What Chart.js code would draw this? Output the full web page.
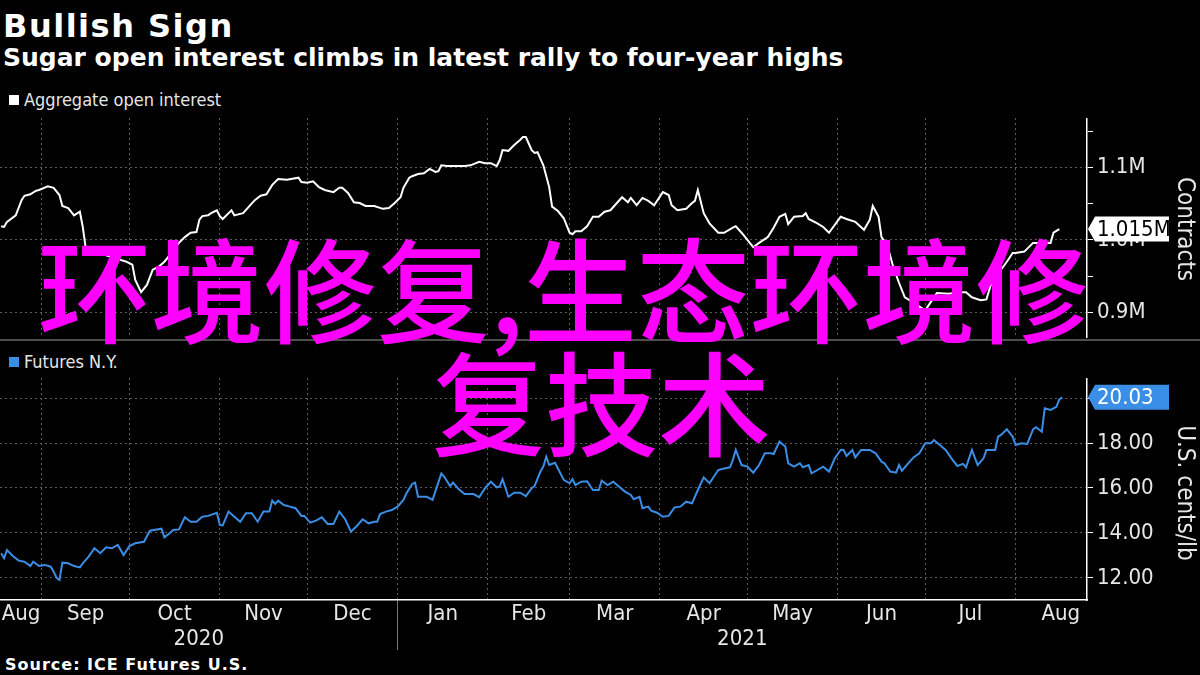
<!DOCTYPE html>
<html>
<head>
<meta charset="utf-8">
<script src="https://cdn.jsdelivr.net/npm/chart.js@4.4.1/dist/chart.umd.min.js"></script>
<style>
  body { margin: 0; background: #000; width: 1200px; height: 675px; overflow: hidden; position: relative; }
  .abs { position: absolute; white-space: nowrap; }
  .narrow { font-family: 'Liberation Sans Narrow', 'DejaVu Sans Condensed', 'Roboto Condensed', 'Arial Narrow', sans-serif; }
  #title { left: 3px; top: 10px; font: bold 32px 'DejaVu Sans', sans-serif; line-height: 32px; color: #fff; letter-spacing: 1.5px; }
  #subtitle { left: 3px; top: 45px; font: bold 25px 'DejaVu Sans', sans-serif; line-height: 25px; color: #fff; }
  .legend { left: 9px; font-size: 18px; line-height: 20px; color: #e6e6e6; }
  .legend i { display: inline-block; width: 10px; height: 10px; margin-right: 5px; vertical-align: 1px; }
  .ytitle { font-size: 24px; color: #e6e6e6; transform: translate(-50%, -50%) rotate(90deg); }
  #sep { left: 0; top: 339px; width: 1200px; height: 2px; background: #4d4d4d; }
  #source { left: 5px; top: 655px; font: bold 16px 'DejaVu Sans', sans-serif; letter-spacing: 1px; color: #fff; }
  #wm { left: 0; top: 229px; font: 500 113px 'Noto Sans CJK SC', sans-serif; line-height: 113px; color: #ff00ff; z-index: 10; }
  #wm span { display: block; }
  canvas { position: absolute; left: 0; }
</style>
</head>
<body>
<div id="title" class="abs">Bullish Sign</div>
<div id="subtitle" class="abs">Sugar open interest climbs in latest rally to four-year highs</div>
<div class="abs legend narrow" style="top:90px"><i style="background:#fff"></i>Aggregate open interest</div>
<div id="sep" class="abs"></div>
<div class="abs legend narrow" style="top:352px"><i style="background:#3a8ee6"></i>Futures N.Y.</div>
<canvas id="chartOI" width="1200" height="220" style="top:118px"></canvas>
<canvas id="chartFut" width="1200" height="272" style="top:378px"></canvas>
<div class="abs ytitle narrow" style="left:1186px;top:229px">Contracts</div>
<div class="abs ytitle narrow" style="left:1186px;top:493px">U.S. cents/lb</div>
<div id="source" class="abs">Source: ICE Futures U.S.</div>
<div id="wm" class="abs"><span style="padding-left:38px">环境修复,生态环境修</span><span style="padding-left:432px">复技术</span></div>

<script>
// ---- data ----
// aggregate open interest, thousands of contracts
const oiDates = [
  '2020-08-18','2020-08-19','2020-08-20','2020-08-23','2020-08-25','2020-08-26','2020-08-28','2020-08-30','2020-08-31',
  '2020-09-03','2020-09-05','2020-09-07','2020-09-08','2020-09-10','2020-09-12','2020-09-14','2020-09-15','2020-09-16',
  '2020-09-18','2020-09-23','2020-09-26','2020-09-30','2020-10-02','2020-10-03','2020-10-05','2020-10-07','2020-10-09',
  '2020-10-11','2020-10-13','2020-10-14','2020-10-16','2020-10-18','2020-10-20','2020-10-22','2020-10-24','2020-10-25',
  '2020-10-26','2020-10-28','2020-10-29','2020-10-31','2020-11-01','2020-11-02','2020-11-05','2020-11-06','2020-11-08',
  '2020-11-09','2020-11-11','2020-11-13','2020-11-15','2020-11-17','2020-11-19','2020-11-21','2020-11-24','2020-11-28',
  '2020-11-29','2020-12-01','2020-12-03','2020-12-05','2020-12-07','2020-12-10','2020-12-12','2020-12-13','2020-12-15',
  '2020-12-17','2020-12-19','2020-12-21','2020-12-24','2020-12-27','2020-12-29','2020-12-31','2021-01-02','2021-01-03',
  '2021-01-05','2021-01-06','2021-01-08','2021-01-10','2021-01-12','2021-01-14','2021-01-15','2021-01-16','2021-01-18',
  '2021-01-21','2021-01-24','2021-01-26','2021-01-29','2021-01-31','2021-02-02','2021-02-04','2021-02-05','2021-02-06',
  '2021-02-08','2021-02-10','2021-02-12','2021-02-13','2021-02-14','2021-02-16','2021-02-17','2021-02-18','2021-02-20',
  '2021-02-22','2021-02-23','2021-02-25','2021-02-27','2021-03-01','2021-03-02','2021-03-03','2021-03-05','2021-03-07',
  '2021-03-09','2021-03-11','2021-03-13','2021-03-15','2021-03-17','2021-03-19','2021-03-21','2021-03-22','2021-03-24',
  '2021-03-26','2021-03-28','2021-03-30','2021-04-02','2021-04-04','2021-04-05','2021-04-07','2021-04-10','2021-04-12',
  '2021-04-13','2021-04-14','2021-04-16','2021-04-18','2021-04-21','2021-04-23','2021-04-26','2021-04-27','2021-04-29',
  '2021-05-01','2021-05-03','2021-05-05','2021-05-08','2021-05-10','2021-05-12','2021-05-14','2021-05-15','2021-05-17',
  '2021-05-20','2021-05-21','2021-05-22','2021-05-25','2021-05-27','2021-05-29','2021-05-31','2021-06-02','2021-06-04',
  '2021-06-07','2021-06-10','2021-06-12','2021-06-13','2021-06-15','2021-06-16','2021-06-18','2021-06-20','2021-06-22',
  '2021-06-24','2021-06-26','2021-06-29','2021-07-01','2021-07-03','2021-07-05','2021-07-09','2021-07-13','2021-07-15',
  '2021-07-17','2021-07-20','2021-07-22','2021-07-24','2021-07-27','2021-07-29','2021-07-31','2021-08-01','2021-08-04',
  '2021-08-07','2021-08-10','2021-08-13','2021-08-14','2021-08-16'
];
const oiValues = [
  1019,1018,1025,1034,1055,1061,1063,1068,1069,
  1074,1072,1062,1047,1044,1034,1039,1018,989,
  983,979,975,970,966,945,928,938,959,
  963,970,975,986,996,1004,1010,1011,1028,
  1033,1034,1037,1041,1033,1029,1041,1034,1036,
  1037,1046,1055,1061,1063,1076,1084,1083,1086,
  1080,1079,1081,1073,1069,1066,1072,1072,1065,
  1052,1051,1047,1047,1043,1044,1051,1059,1072,
  1086,1088,1091,1092,1098,1094,1095,1103,1102,
  1102,1102,1103,1108,1106,1106,1102,1110,1124,
  1123,1131,1138,1142,1142,1124,1120,1121,1103,
  1073,1046,1040,1030,1010,1008,1012,1012,1019,
  1032,1032,1039,1041,1050,1059,1052,1058,1048,
  1058,1054,1048,1066,1062,1048,1041,1043,1051,
  1054,1069,1037,1023,1010,1010,1017,1019,1010,
  1000,990,996,1004,1017,1032,1036,1022,1032,
  1033,1037,1029,1023,1018,1010,1021,1032,1029,
  1025,1014,1028,1047,1032,1004,993,963,941,
  921,916,908,903,915,927,926,928,928,
  921,917,918,945,959,970,982,982,984,
  996,996,996,1010,1015
];

// raw sugar futures, U.S. cents/lb
const futDates = [
  '2020-08-18','2020-08-19','2020-08-20','2020-08-22','2020-08-24','2020-08-26','2020-08-28','2020-08-29','2020-08-31',
  '2020-09-02','2020-09-04','2020-09-05','2020-09-06','2020-09-07','2020-09-08','2020-09-10','2020-09-12','2020-09-14',
  '2020-09-15','2020-09-17','2020-09-19','2020-09-21','2020-09-23','2020-09-25','2020-09-27','2020-09-29','2020-10-01',
  '2020-10-03','2020-10-06','2020-10-08','2020-10-12','2020-10-13','2020-10-15','2020-10-16','2020-10-18','2020-10-20',
  '2020-10-22','2020-10-24','2020-10-26','2020-10-28','2020-10-31','2020-11-01','2020-11-02','2020-11-04','2020-11-06',
  '2020-11-08','2020-11-10','2020-11-12','2020-11-14','2020-11-16','2020-11-18','2020-11-19','2020-11-20','2020-11-21',
  '2020-11-23','2020-11-25','2020-11-27','2020-11-29','2020-11-30','2020-12-02','2020-12-04','2020-12-06','2020-12-08',
  '2020-12-10','2020-12-12','2020-12-14','2020-12-16','2020-12-18','2020-12-20','2020-12-22','2020-12-24','2020-12-25',
  '2020-12-26','2020-12-28','2020-12-30','2021-01-01','2021-01-03','2021-01-04','2021-01-06','2021-01-07','2021-01-08',
  '2021-01-11','2021-01-13','2021-01-16','2021-01-17','2021-01-19','2021-01-20','2021-01-22','2021-01-24','2021-01-27',
  '2021-01-29','2021-01-31','2021-02-02','2021-02-04','2021-02-05','2021-02-06','2021-02-08','2021-02-10','2021-02-12',
  '2021-02-14','2021-02-16','2021-02-17','2021-02-19','2021-02-20','2021-02-21','2021-02-22','2021-02-24','2021-02-25',
  '2021-02-27','2021-03-01','2021-03-02','2021-03-03','2021-03-05','2021-03-07','2021-03-09','2021-03-11','2021-03-12',
  '2021-03-14','2021-03-16','2021-03-18','2021-03-20','2021-03-22','2021-03-23','2021-03-25','2021-03-26','2021-03-28',
  '2021-03-29','2021-03-31','2021-04-02','2021-04-04','2021-04-06','2021-04-08','2021-04-10','2021-04-12','2021-04-14',
  '2021-04-16','2021-04-18','2021-04-21','2021-04-23','2021-04-25','2021-04-26','2021-04-27','2021-04-29','2021-05-01',
  '2021-05-03','2021-05-05','2021-05-07','2021-05-09','2021-05-10','2021-05-12','2021-05-14','2021-05-15','2021-05-17',
  '2021-05-19','2021-05-20','2021-05-22','2021-05-23','2021-05-25','2021-05-27','2021-05-29','2021-05-31','2021-06-02',
  '2021-06-03','2021-06-04','2021-06-06','2021-06-07','2021-06-09','2021-06-12','2021-06-14','2021-06-16','2021-06-17',
  '2021-06-19','2021-06-21','2021-06-22','2021-06-23','2021-06-25','2021-06-27','2021-06-29','2021-07-01','2021-07-03',
  '2021-07-04','2021-07-06','2021-07-08','2021-07-10','2021-07-12','2021-07-14','2021-07-15','2021-07-17','2021-07-19',
  '2021-07-21','2021-07-22','2021-07-25','2021-07-26','2021-07-27','2021-07-29','2021-07-31','2021-08-01','2021-08-03',
  '2021-08-05','2021-08-07','2021-08-08','2021-08-10','2021-08-11','2021-08-13','2021-08-15','2021-08-16','2021-08-17'
];
const futValues = [
  13.10,12.88,13.24,12.98,12.77,12.72,12.53,12.72,12.53,
  12.58,12.50,12.28,12.01,11.91,12.68,12.65,12.53,12.47,
  12.65,12.95,13.32,13.10,13.36,13.32,13.47,13.02,13.42,
  13.54,13.61,14.10,14.19,13.81,14.01,14.13,14.16,14.70,
  14.50,14.50,14.72,14.76,14.90,14.36,14.34,14.95,14.72,
  14.50,14.88,14.88,14.50,14.95,14.95,15.44,15.29,15.44,
  15.24,15.17,15.10,14.76,14.76,14.46,14.55,14.70,14.40,
  14.40,14.95,14.61,14.06,14.31,14.61,14.43,14.50,14.50,
  14.84,14.95,15.02,15.17,15.47,15.76,16.18,16.24,15.61,
  15.61,15.47,16.65,16.50,16.09,16.24,15.94,15.73,15.73,
  15.59,15.99,16.28,16.03,16.06,16.39,15.61,15.79,15.79,
  15.64,15.99,16.09,16.73,16.95,17.39,17.02,17.12,16.87,
  16.36,16.21,16.39,16.13,16.28,16.30,15.91,15.91,16.33,
  16.13,16.28,16.06,15.84,15.69,15.50,15.61,15.10,15.17,
  14.99,14.90,14.72,14.76,15.14,15.17,15.39,15.32,15.91,
  16.47,16.21,16.80,16.87,16.92,17.24,17.69,17.02,16.95,
  16.68,17.02,17.54,17.54,17.51,18.06,17.84,17.10,16.95,
  17.10,16.92,17.02,16.65,16.80,16.95,16.73,17.32,17.69,
  17.69,17.42,17.69,17.36,17.69,17.69,17.54,17.17,17.10,
  16.73,16.68,17.02,16.77,17.07,17.36,17.54,17.99,17.99,
  18.13,17.91,17.69,17.32,16.98,17.07,16.92,17.69,17.02,
  17.32,17.69,17.69,18.28,18.36,18.61,18.28,17.91,17.99,
  17.96,18.61,18.70,18.50,19.54,19.47,19.61,19.94,20.03
];

// axis categories / tick labels
const monthFirsts = ['2020-08-01','2020-09-01','2020-10-01','2020-11-01','2020-12-01','2021-01-01','2021-02-01',
                     '2021-03-01','2021-04-01','2021-05-01','2021-06-01','2021-07-01','2021-08-01','2021-09-01'];
const monthLabels = ['Aug','Sep','Oct','Nov','Dec','Jan','Feb','Mar','Apr','May','Jun','Jul','Aug'];
const yearLabels = ['2020','2021'];
const oiTicks = [900, 950, 1000, 1050, 1100, 1150];
const futTicks = [12, 13, 14, 15, 16, 17, 18, 19, 20];

// ---- helpers ----
const DAY0 = Date.UTC(2020, 8, 1);
function dayNum(s) {
  const [y, m, d] = s.split('-').map(Number);
  return (Date.UTC(y, m - 1, d) - DAY0) / 864e5;
}
const X_MIN = -14.4, X_MAX = 358.5;
const NARROW = "'Liberation Sans Narrow', 'DejaVu Sans Condensed', 'Roboto Condensed', 'Arial Narrow', sans-serif";
const TXT = '#e6e6e6';
const GRID = '#5c5c5c';
const BLUE = '#3a8ee6';
const JAN1 = dayNum('2021-01-01');

const gridDays = monthFirsts.slice(1, 13).map(dayNum);
const monthCenters = monthLabels.map((_, i) => {
  const c = (dayNum(monthFirsts[i]) + dayNum(monthFirsts[i + 1])) / 2;
  return Math.min(Math.max(c, X_MIN + 7.2), X_MAX - 7.2);
});
const yearCenters = [(X_MIN + JAN1) / 2, (JAN1 + X_MAX) / 2];

function toPoints(dates, values) {
  return dates.map((d, i) => ({ x: dayNum(d), y: values[i] }));
}

// value tag at the end of the line, on the right axis
const lastValueTag = {
  id: 'lastValueTag',
  afterDraw(chart, args, opts) {
    const meta = chart.getDatasetMeta(0);
    const pt = meta.data[meta.data.length - 1];
    const ctx = chart.ctx;
    const left = chart.chartArea.right + 1;
    const y = pt.y, h = 25, w = 81;
    ctx.save();
    ctx.fillStyle = opts.bg;
    ctx.beginPath();
    ctx.moveTo(left, y);
    ctx.lineTo(left + 7, y - h / 2);
    ctx.lineTo(left + w, y - h / 2);
    ctx.lineTo(left + w, y + h / 2);
    ctx.lineTo(left + 7, y + h / 2);
    ctx.closePath();
    ctx.fill();
    ctx.fillStyle = opts.color;
    ctx.font = '22px ' + NARROW;
    ctx.textBaseline = 'middle';
    ctx.fillText(opts.format(chart.data.datasets[0].data[meta.data.length - 1].y), left + 9, y + 1);
    ctx.restore();
  }
};

function noPad(s) { s.paddingLeft = 0; s.paddingRight = 0; s.paddingTop = 0; s.paddingBottom = 0; }

function gridX(bottomAxis) {
  return {
    type: 'linear', min: X_MIN, max: X_MAX,
    afterBuildTicks: s => { s.ticks = gridDays.map(v => ({ value: v })); },
    ticks: { display: false },
    grid: {
      color: GRID, drawTicks: bottomAxis, tickLength: 52,
      tickColor: c => (c.tick && c.tick.value === JAN1) ? '#777' : 'transparent'
    },
    border: { display: bottomAxis, color: '#fff', width: 1.5, dash: [2, 3] },
    afterFit: s => { s.height = 0; noPad(s); }
  };
}

function rightY(min, max, ticks, label) {
  return {
    position: 'right', min, max,
    afterBuildTicks: s => { s.ticks = ticks.map(v => ({ value: v })); },
    ticks: { color: TXT, font: { family: NARROW, size: 22 }, padding: 4, callback: label },
    grid: {
      color: c => (label(c.tick.value) === '' ? 'transparent' : GRID),
      tickColor: '#fff', tickLength: 6
    },
    border: { color: '#fff', width: 1.5, dash: [2, 3] },
    afterFit: s => { s.width = 113; noPad(s); }
  };
}

Chart.defaults.animation = false;

new Chart(document.getElementById('chartOI'), {
  type: 'line',
  data: {
    datasets: [{
      data: toPoints(oiDates, oiValues),
      borderColor: '#ffffff', borderWidth: 2, pointRadius: 0, tension: 0
    }]
  },
  options: {
    responsive: false,
    layout: { padding: 0 },
    scales: {
      x: gridX(false),
      y: rightY(864.8, 1168.3, oiTicks, v => (v % 100 === 0 ? (v / 1000).toFixed(1) + 'M' : ''))
    },
    plugins: {
      legend: { display: false }, tooltip: { enabled: false },
      lastValueTag: { bg: '#ffffff', color: '#000', format: v => (v / 1000).toFixed(3) + 'M' }
    }
  },
  plugins: [lastValueTag]
});

new Chart(document.getElementById('chartFut'), {
  type: 'line',
  data: {
    datasets: [{
      data: toPoints(futDates, futValues),
      borderColor: BLUE, borderWidth: 2, pointRadius: 0, tension: 0
    }]
  },
  options: {
    responsive: false,
    layout: { padding: 0 },
    scales: {
      x: gridX(true),
      xm: {
        type: 'linear', position: 'bottom', min: X_MIN, max: X_MAX,
        afterBuildTicks: s => { s.ticks = monthCenters.map(v => ({ value: v })); },
        ticks: { color: TXT, font: { family: NARROW, size: 22 }, padding: 1, autoSkip: false, maxRotation: 0,
                 callback: (v, i) => monthLabels[i] },
        grid: { display: false, drawTicks: false },
        border: { display: false },
        afterFit: s => { s.height = 26; noPad(s); }
      },
      xy: {
        type: 'linear', position: 'bottom', min: X_MIN, max: X_MAX,
        afterBuildTicks: s => { s.ticks = yearCenters.map(v => ({ value: v })); },
        ticks: { color: TXT, font: { family: NARROW, size: 22 }, padding: 0, autoSkip: false, maxRotation: 0,
                 callback: (v, i) => yearLabels[i] },
        grid: { display: false, drawTicks: false },
        border: { display: false },
        afterFit: s => { s.height = 24; noPad(s); }
      },
      y: rightY(11.02, 20.89, futTicks, v => (v % 2 === 0 ? v.toFixed(2) : ''))
    },
    plugins: {
      legend: { display: false }, tooltip: { enabled: false },
      lastValueTag: { bg: BLUE, color: '#fff', format: v => v.toFixed(2) }
    }
  },
  plugins: [lastValueTag]
});
</script>
</body>
</html>
